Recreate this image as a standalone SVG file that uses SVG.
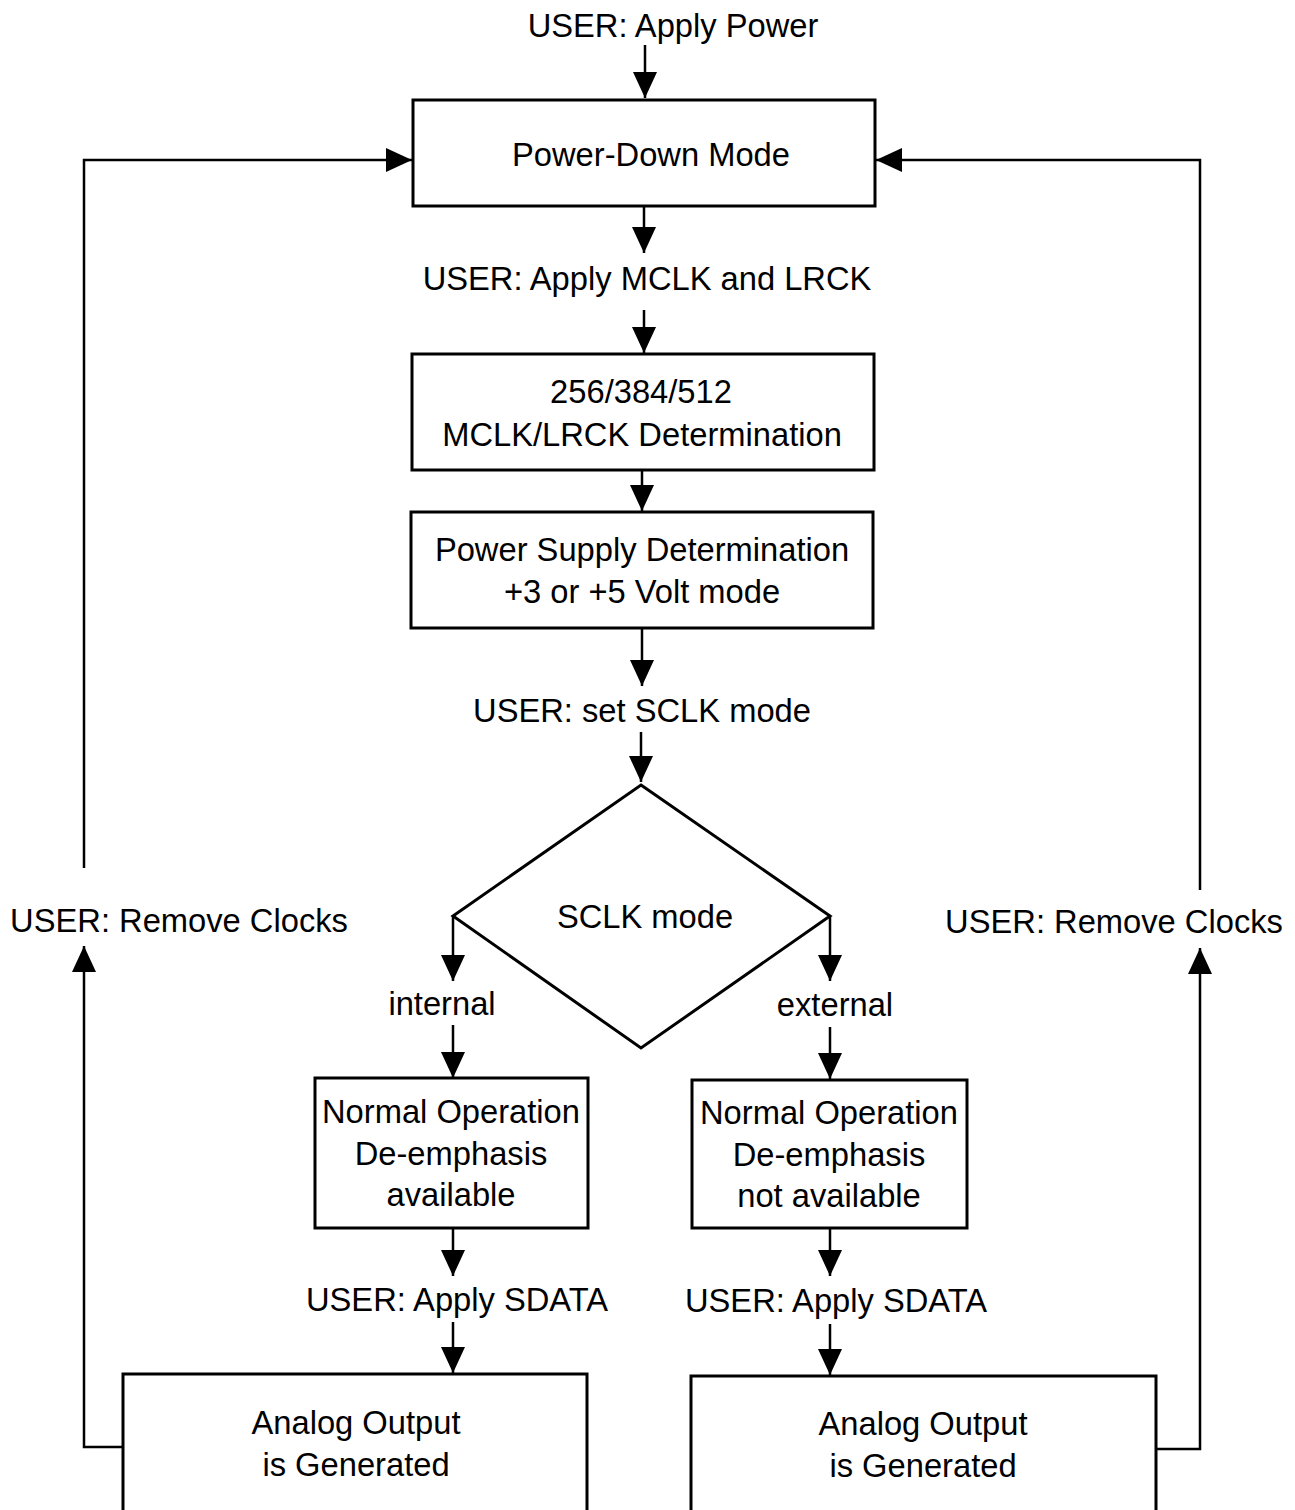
<svg xmlns="http://www.w3.org/2000/svg" width="1295" height="1510" viewBox="0 0 1295 1510">
<style>
text{font-family:"Liberation Sans",Arial,sans-serif;font-size:32.7px;fill:#000;text-anchor:middle}
.box{fill:#fff;stroke:#000;stroke-width:3}
.ln{fill:none;stroke:#000;stroke-width:2.5}
</style>
<defs>
<marker id="ah" markerUnits="userSpaceOnUse" viewBox="0 0 26 24" refX="26" refY="12" markerWidth="26" markerHeight="24" orient="auto">
<path d="M0,0 L26,12 L0,24 Z" fill="#000"/>
</marker>
</defs>
<rect width="1295" height="1510" fill="#fff"/>
<g id="connectors">
<path class="ln" marker-end="url(#ah)" d="M645,45 V98"/>
<path class="ln" marker-end="url(#ah)" d="M644,206 V253"/>
<path class="ln" marker-end="url(#ah)" d="M644,310 V353"/>
<path class="ln" marker-end="url(#ah)" d="M642,470 V511"/>
<path class="ln" marker-end="url(#ah)" d="M642,628 V686"/>
<path class="ln" marker-end="url(#ah)" d="M641,732 V782"/>
<path class="ln" marker-end="url(#ah)" d="M453,917 V981"/>
<path class="ln" marker-end="url(#ah)" d="M453,1025 V1078"/>
<path class="ln" marker-end="url(#ah)" d="M453,1228 V1276"/>
<path class="ln" marker-end="url(#ah)" d="M453,1322 V1373"/>
<path class="ln" marker-end="url(#ah)" d="M830,917 V981"/>
<path class="ln" marker-end="url(#ah)" d="M830,1027 V1079"/>
<path class="ln" marker-end="url(#ah)" d="M830,1228 V1276"/>
<path class="ln" marker-end="url(#ah)" d="M830,1324 V1375"/>
<path class="ln" marker-end="url(#ah)" d="M123,1447 H84 V946"/>
<path class="ln" marker-end="url(#ah)" d="M84,868 V160 H412"/>
<path class="ln" marker-end="url(#ah)" d="M1156,1449 H1200 V948"/>
<path class="ln" marker-end="url(#ah)" d="M1200,890 V160 H876"/>
</g>
<g id="lbl-apply-power"><text x="673" y="37">USER: Apply Power</text></g>
<g id="n-powerdown"><rect class="box" x="413" y="100" width="462" height="106"/><text x="651" y="166">Power-Down Mode</text></g>
<g id="lbl-apply-mclk"><text x="647" y="290">USER: Apply MCLK and LRCK</text></g>
<g id="n-mclk"><rect class="box" x="412" y="354" width="462" height="116"/><text x="641" y="403">256/384/512</text><text x="642" y="446">MCLK/LRCK Determination</text></g>
<g id="n-psupply"><rect class="box" x="411" y="512" width="462" height="116"/><text x="642" y="561">Power Supply Determination</text><text x="642" y="603">+3 or +5 Volt mode</text></g>
<g id="lbl-sclk"><text x="642" y="722">USER: set SCLK mode</text></g>
<g id="n-diamond"><path class="box" d="M641,785 L830,916 L641,1048 L453,916 Z"/><text x="645" y="928">SCLK mode</text></g>
<g id="lbl-internal"><text x="442" y="1015">internal</text></g>
<g id="lbl-external"><text x="835" y="1016">external</text></g>
<g id="n-int"><rect class="box" x="315" y="1078" width="273" height="150"/><text x="451" y="1123">Normal Operation</text><text x="451" y="1165">De-emphasis</text><text x="451" y="1206">available</text></g>
<g id="n-ext"><rect class="box" x="692" y="1080" width="275" height="148"/><text x="829" y="1124">Normal Operation</text><text x="829" y="1166">De-emphasis</text><text x="829" y="1207">not available</text></g>
<g id="lbl-sdata-l"><text x="457" y="1311">USER: Apply SDATA</text></g>
<g id="lbl-sdata-r"><text x="836" y="1312">USER: Apply SDATA</text></g>
<g id="n-out-l"><rect class="box" x="123" y="1374" width="464" height="150"/><text x="356" y="1434">Analog Output</text><text x="356" y="1476">is Generated</text></g>
<g id="n-out-r"><rect class="box" x="691" y="1376" width="465" height="150"/><text x="923" y="1435">Analog Output</text><text x="923" y="1477">is Generated</text></g>
<g id="lbl-remove-l"><text x="179" y="932">USER: Remove Clocks</text></g>
<g id="lbl-remove-r"><text x="1114" y="933">USER: Remove Clocks</text></g>
</svg>
